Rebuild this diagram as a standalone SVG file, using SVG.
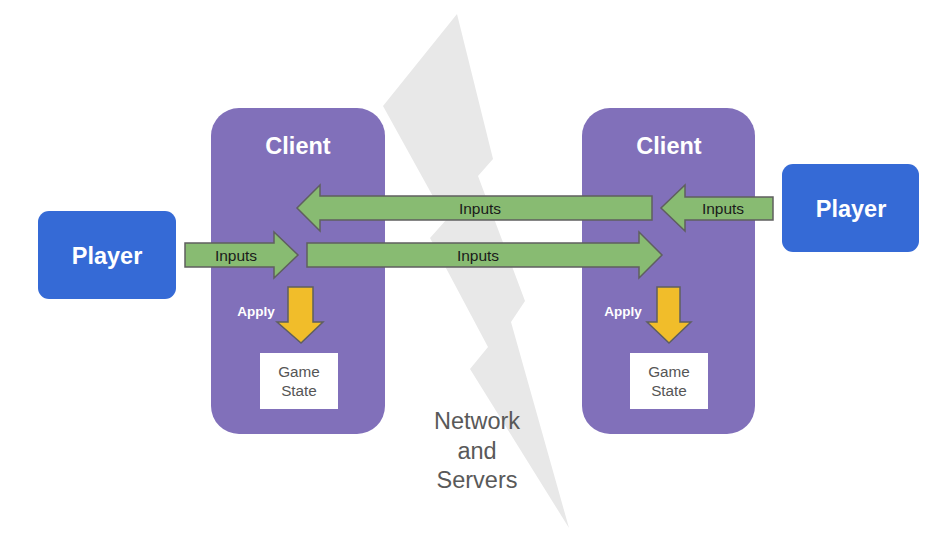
<svg xmlns="http://www.w3.org/2000/svg" width="943" height="543" viewBox="0 0 943 543">
<style>
.client{fill:#8170ba}
.player{fill:#356ad6}
.ttl{font-family:"Liberation Sans",Arial,sans-serif;font-weight:bold;fill:#fff;font-size:23.5px;text-anchor:middle;dominant-baseline:central}
.arr{fill:#88bb72;stroke:#5f5f5f;stroke-width:1.5}
.lbl{font-family:"Liberation Sans",Arial,sans-serif;fill:#1a1a1a;font-size:15.5px;text-anchor:middle;dominant-baseline:central}
.apply{fill:#f1bd2a;stroke:#5f5f5f;stroke-width:1.5}
.applyt{font-family:"Liberation Sans",Arial,sans-serif;font-weight:bold;fill:#fff;font-size:13.5px;text-anchor:middle;dominant-baseline:central}
.gs{fill:#fff}
.gst{font-family:"Liberation Sans",Arial,sans-serif;fill:#555;font-size:15.3px;text-anchor:middle;dominant-baseline:central}
.net{font-family:"Liberation Sans",Arial,sans-serif;fill:#595959;font-size:23.5px;text-anchor:middle;dominant-baseline:central}
</style>
<rect width="943" height="543" fill="#fff"/>
<polygon id="bolt" fill="#e8e8e8" points="457,14 493,159 478,176 525,301 511,322 569,528 470,369 488,347 430,238 446,220 383,106"/>
<g id="client-left">
<rect class="client" x="211" y="108" width="174" height="326" rx="28"/>
<text class="ttl" x="298" y="146">Client</text>
</g>
<g id="client-right">
<rect class="client" x="582" y="108" width="173" height="326" rx="28"/>
<text class="ttl" x="669" y="146">Client</text>
</g>
<g id="player-left">
<rect class="player" x="38" y="211" width="138" height="88" rx="11"/>
<text class="ttl" x="107" y="256">Player</text>
</g>
<g id="player-right">
<rect class="player" x="782" y="164" width="137" height="88" rx="11"/>
<text class="ttl" x="851" y="209">Player</text>
</g>
<g id="network-label">
<text class="net" x="477" y="421">Network</text>
<text class="net" x="477" y="451">and</text>
<text class="net" x="477" y="480">Servers</text>
</g>
<g id="gamestate-left">
<rect class="gs" x="260" y="353" width="78" height="56"/>
<text class="gst" x="299" y="371">Game</text>
<text class="gst" x="299" y="390">State</text>
</g>
<g id="gamestate-right">
<rect class="gs" x="630" y="353" width="78" height="56"/>
<text class="gst" x="669" y="371">Game</text>
<text class="gst" x="669" y="390">State</text>
</g>
<g id="connectors">
<polygon class="arr" points="185,243 274,243 274,232 298,255 274,278 274,267 185,267"/>
<text class="lbl" x="236" y="255">Inputs</text>
<polygon class="arr" points="307,243 639,243 639,232 662,255 639,278 639,267 307,267"/>
<text class="lbl" x="478" y="255">Inputs</text>
<polygon class="arr" points="652,196 320,196 320,185 297,208 320,231 320,220 652,220"/>
<text class="lbl" x="480" y="208">Inputs</text>
<polygon class="arr" points="773,197 685,197 685,185 661,208 685,231 685,220 773,220"/>
<text class="lbl" x="723" y="208">Inputs</text>
<polygon class="apply" points="288,287 313,287 313,322 323,322 301,343 277,322 288,322"/>
<text class="applyt" x="256" y="311">Apply</text>
<polygon class="apply" points="657,287 680,287 680,322 691,322 669,343 647,322 657,322"/>
<text class="applyt" x="623" y="311">Apply</text>
</g>
</svg>
